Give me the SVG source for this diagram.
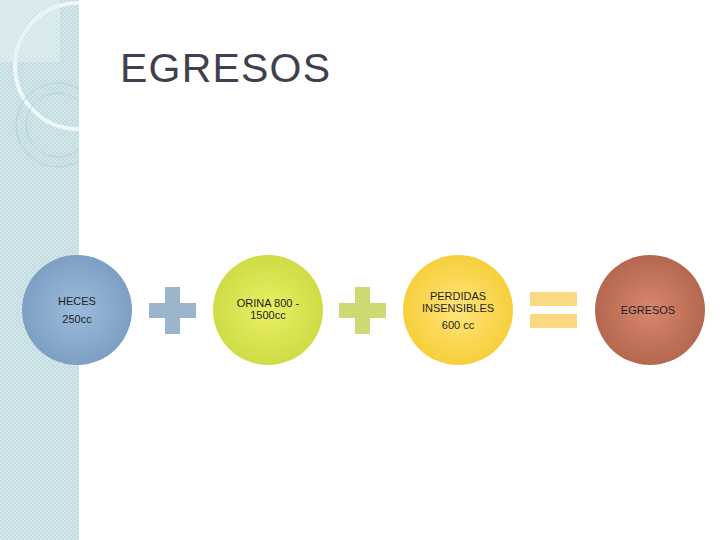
<svg xmlns="http://www.w3.org/2000/svg" width="720" height="540" viewBox="0 0 720 540">
<defs>
<style>
.t{font-family:"Liberation Sans",Arial,sans-serif;fill:#1e1e1e;font-size:11px;text-anchor:middle}
</style>
<pattern id="pt" width="4" height="4" patternUnits="userSpaceOnUse"><rect width="4" height="4" fill="#d3e6ea"/><rect width="2" height="2" fill="#c2dce2"/><rect x="2" y="2" width="2" height="2" fill="#c2dce2"/></pattern>
<radialGradient id="gb"><stop offset="0" stop-color="#9cbcdc"/><stop offset="1" stop-color="#7d9fc3"/></radialGradient>
<radialGradient id="gg"><stop offset="0" stop-color="#eaf065"/><stop offset="1" stop-color="#cfdc45"/></radialGradient>
<radialGradient id="gy"><stop offset="0" stop-color="#ffe57a"/><stop offset="1" stop-color="#f7cf3c"/></radialGradient>
<radialGradient id="gr"><stop offset="0" stop-color="#d7876e"/><stop offset="1" stop-color="#b5684f"/></radialGradient>
<clipPath id="cl"><rect width="79" height="540"/></clipPath>
</defs>
<rect width="720" height="540" fill="#fff"/>
<rect width="79" height="540" fill="url(#pt)"/>
<g clip-path="url(#cl)" fill="none">
<circle cx="78" cy="66" r="63" stroke="#eef7f9" stroke-width="4"/>
<circle cx="58" cy="125" r="42" stroke="#b8d2d8" stroke-width="1"/>
<circle cx="58" cy="125" r="32" stroke="#b8d2d8" stroke-width="1"/>
<rect x="0" y="0" width="60" height="62" fill="#e6f2f4" opacity="0.5"/>
</g>
<text x="120" y="82" font-family="Liberation Sans,Arial,sans-serif" font-size="41" fill="#3f3f4d" textLength="210">EGRESOS</text>
<g id="heces"><circle cx="77" cy="310" r="55" fill="url(#gb)"/><text class="t" x="77" y="305">HECES</text><text class="t" x="77" y="323">250cc</text></g>
<g id="plus1" fill="#9ab4cb"><rect x="149" y="303" width="47" height="15"/><rect x="165" y="287" width="15" height="47"/></g>
<g id="orina"><circle cx="268" cy="310" r="55" fill="url(#gg)"/><text class="t" x="268" y="307">ORINA 800 -</text><text class="t" x="268" y="319">1500cc</text></g>
<g id="plus2" fill="#ced974"><rect x="339" y="303" width="47" height="15"/><rect x="355" y="287" width="15" height="47"/></g>
<g id="perdidas"><circle cx="458" cy="310" r="55" fill="url(#gy)"/><text class="t" x="458" y="300">PERDIDAS</text><text class="t" x="458" y="312">INSENSIBLES</text><text class="t" x="458" y="329">600 cc</text></g>
<g id="equals" fill="#fad982"><rect x="530" y="292" width="47" height="14"/><rect x="530" y="314" width="47" height="14"/></g>
<g id="egresos"><circle cx="650" cy="310" r="55" fill="url(#gr)"/><text class="t" x="648" y="314">EGRESOS</text></g>
<g id="connectors"/>
</svg>
